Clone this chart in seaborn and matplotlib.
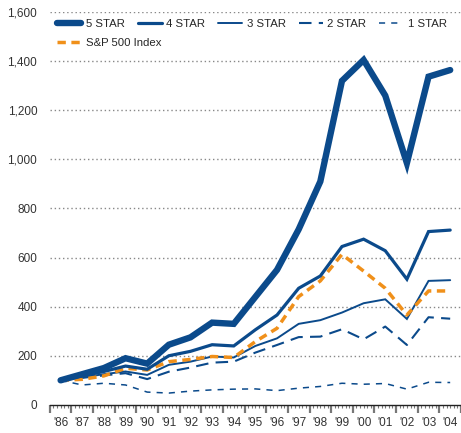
import pandas as pd
import matplotlib
matplotlib.use('Agg')
import matplotlib.pyplot as plt
import seaborn as sns
import numpy as np

# --- data ---
YEARS = ["'86", "'87", "'88", "'89", "'90", "'91", "'92", "'93", "'94", "'95",
         "'96", "'97", "'98", "'99", "'00", "'01", "'02", "'03", "'04"]
STAR5 = [100, 125, 150, 190, 168, 245, 275, 335, 330, 440, 550, 715, 910,
         1320, 1405, 1260, 985, 1337, 1364]
STAR4 = [100, 118, 136, 158, 145, 200, 218, 245, 240, 306, 366, 475, 525,
         645, 675, 628, 512, 706, 712]
STAR3 = [100, 112, 125, 136, 122, 163, 176, 197, 193, 240, 271, 330, 345,
         376, 414, 430, 350, 505, 508]
STAR2 = [100, 110, 120, 129, 105, 135, 152, 172, 176, 213, 244, 276, 278,
         308, 267, 319, 244, 357, 351]
STAR1 = [100, 81, 88, 81, 52, 48, 56, 61, 64, 65, 58, 68, 75,
         88, 84, 87, 64, 92, 91]
SP500 = [100, 104, 118, 149, 142, 176, 185, 197, 193, 258, 312, 441, 505,
         613, 545, 475, 366, 464, 464]
Y_TICKS = [0, 200, 400, 600, 800, 1000, 1200, 1400, 1600]

BLUE = '#0b4a8b'
ORANGE = '#f0901a'
FS = 8.5

sns.set_style('white')
plt.rcParams['font.family'] = ['Liberation Sans', 'DejaVu Sans']

df = pd.DataFrame({'pos': np.arange(len(YEARS)), '5 STAR': STAR5, '4 STAR': STAR4,
                   '3 STAR': STAR3, '2 STAR': STAR2, '1 STAR': STAR1,
                   'S&P 500 Index': SP500})

fig = plt.figure(figsize=(4.61, 4.33), dpi=100)
ax = fig.add_axes([0.108, 0.065, 0.892, 0.907])

styles = {
    '5 STAR': dict(color=BLUE, lw=4.6),
    '4 STAR': dict(color=BLUE, lw=2.3),
    '3 STAR': dict(color=BLUE, lw=1.4),
    '2 STAR': dict(color=BLUE, lw=1.5, dashes=(6, 3.5)),
    '1 STAR': dict(color=BLUE, lw=1.1, dashes=(4, 4)),
    'S&P 500 Index': dict(color=ORANGE, lw=2.5, dashes=(2.4, 1.6)),
}
lines = {}
for name in ['1 STAR', '2 STAR', '3 STAR', 'S&P 500 Index', '4 STAR', '5 STAR']:
    st = dict(styles[name])
    dashes = st.pop('dashes', None)
    sns.lineplot(data=df, x='pos', y=name, ax=ax, label=name, **st)
    ln = ax.lines[-1]
    if dashes:
        ln.set_dashes(dashes)
    ln.set_solid_joinstyle('miter')
    lines[name] = ln

ax.set_xlim(-0.5, 18.42)
ax.set_ylim(0, 1600)
ax.set_yticks(Y_TICKS)
ax.set_yticklabels([f'{v:,}' for v in Y_TICKS], fontsize=FS, color='#333333')
ax.tick_params(axis='y', length=0, pad=9)
for v in Y_TICKS[1:]:
    ax.axhline(v, color='#888888', lw=1.0, ls=(0, (1, 2)), zorder=0)

# year boundary ticks and small month ticks
ax.set_xticks(np.arange(-0.5, 19, 1))
ax.set_xticklabels([])
ax.set_xticks(np.arange(-0.5, 18.5, 1 / 6), minor=True)
ax.tick_params(axis='x', which='major', bottom=True, length=6, width=1.6,
               color='#777777', direction='out')
ax.tick_params(axis='x', which='minor', bottom=True, length=2.5, width=0.8,
               color='#777777', direction='out')
ax.set_xlabel('')
ax.set_ylabel('')

sec = ax.secondary_xaxis('bottom')
sec.set_xticks(np.arange(len(YEARS)))
sec.set_xticklabels(YEARS, fontsize=FS, color='#333333')
sec.tick_params(length=0, pad=9)
sec.spines['bottom'].set_visible(False)

for s in ['top', 'right', 'left']:
    ax.spines[s].set_visible(False)
ax.spines['bottom'].set_color('#222222')
ax.spines['bottom'].set_linewidth(1.0)

# two legends: star ratings on one row, index underneath
leg_kw = dict(loc='upper left', frameon=False, fontsize=8.2, handlelength=2.1,
              handletextpad=0.4, borderaxespad=0.0, borderpad=0.0)
stars = ['5 STAR', '4 STAR', '3 STAR', '2 STAR', '1 STAR']
leg1 = ax.legend([lines[n] for n in stars], stars, ncol=5, columnspacing=1.15,
                 bbox_to_anchor=(0.018, 0.982), **leg_kw)
ax.add_artist(leg1)
ax.legend([lines['S&P 500 Index']], ['S&P 500 Index'],
          bbox_to_anchor=(0.018, 0.934), **leg_kw)

fig.savefig('out.png', dpi=100)
